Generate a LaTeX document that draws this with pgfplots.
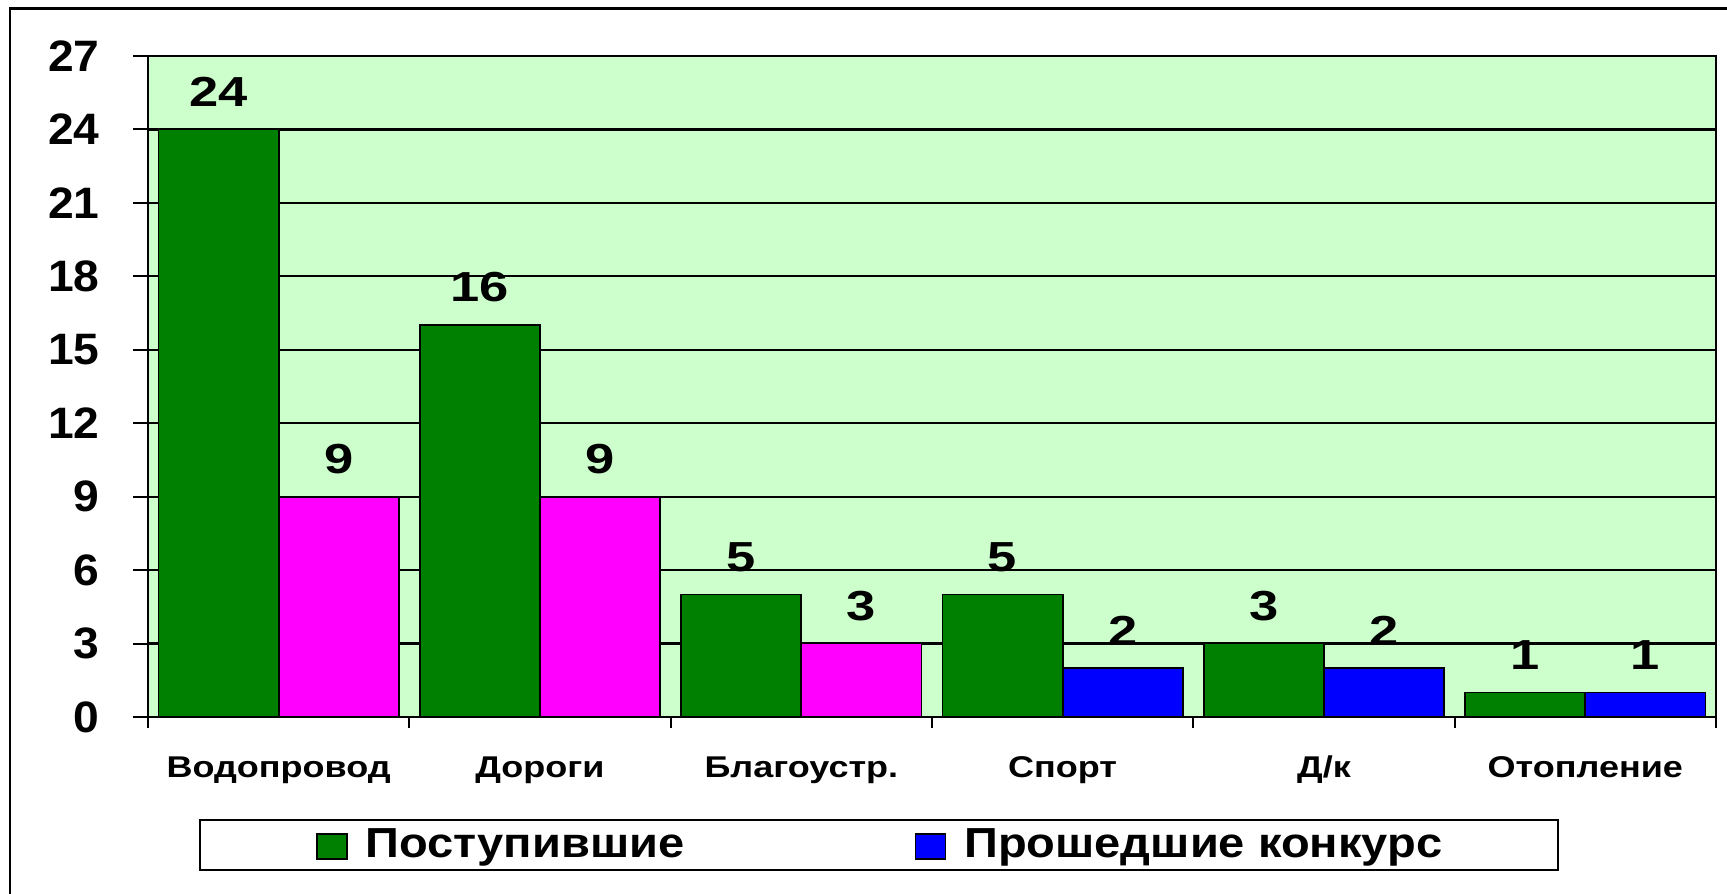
\documentclass[border=0pt]{standalone}
\usepackage{pgfplots}
\pgfplotsset{compat=1.18}
\usepackage{fontspec}
\setmainfont{Liberation Sans}
\newfontfamily\tickf{Liberation Sans}[FakeStretch=1.05]
\newfontfamily\labf{Liberation Sans}[FakeStretch=1.2]
\newfontfamily\valf{Liberation Sans}[FakeStretch=1.25]
\newfontfamily\legf{Liberation Sans}[FakeStretch=1.12]
\definecolor{bg}{HTML}{CCFFCC}
\definecolor{bgreen}{HTML}{008000}
\definecolor{bmag}{HTML}{FF00FF}
\definecolor{bblue}{HTML}{0000FF}
\begin{document}
\begin{tikzpicture}[x=1pt,y=1pt]
\useasboundingbox (0,0) rectangle (863.5,446.5);
\draw[line width=1.2pt] (5,-5) -- (5,442.25) -- (870,442.25);
\begin{axis}[
  at={(74pt,88pt)}, anchor=south west,
  scale only axis, width=784pt, height=330.5pt,
  xmin=-0.5, xmax=5.5, ymin=0, ymax=27,
  clip=false,
  axis background/.style={fill=bg},
  axis line style={line width=1.1pt},
  ytick={0,3,...,27},
  ymajorgrids, grid style={black, line width=1.1pt},
  xtick={0,...,5},
  xticklabels={Водопровод,Дороги,Благоустр.,Спорт,Д/к,Отопление},
  minor xtick={-0.5,0.5,...,5.5},
  xtick pos=bottom, ytick pos=left,
  tick align=outside,
  major tick length=7.5pt, minor tick length=5.5pt,
  every major x tick/.append style={draw=none},
  tick style={black, line width=1pt},
  /pgf/number format/assume math mode=true,
  xticklabel style={font=\labf\bfseries\fontsize{15}{15}\selectfont, anchor=base, inner sep=0pt, yshift=-22.5pt},
  yticklabel style={font=\tickf\bfseries\fontsize{22}{22}\selectfont, anchor=east, inner sep=0pt, xshift=-16.5pt},
  every node near coord/.append style={font=\valf\bfseries\fontsize{21}{21}\selectfont, anchor=south, inner sep=0pt, yshift=11pt, text=black},
  legend columns=2,
  legend style={at={(0.4662,-0.1936)}, anchor=center, draw=black, line width=1pt, fill=white,
    inner xsep=58pt, inner ysep=4.4pt,
    font=\legf\bfseries\fontsize{21}{21}\selectfont,
    nodes={inner sep=0pt},
    /tikz/every odd column/.append style={column sep=9pt},
    /tikz/every even column/.append style={column sep=115pt}},
  legend image code/.code={\draw[#1, line width=0.9pt] (0pt,-7pt) rectangle (15pt,5.5pt);},
]
% categories at 0..5; first series drawn left of centre, second right of centre
\addplot[ybar, bar width=0.46, bar shift=0, fill=bgreen, draw=black, line width=0.9pt, nodes near coords]
  coordinates {(-0.23,24) (0.77,16) (1.77,5) (2.77,5) (3.77,3) (4.77,1)};
\addlegendentry{Поступившие}
\addplot[ybar, bar width=0.46, bar shift=0, fill=bblue, draw=black, line width=0.9pt, nodes near coords]
  coordinates {(3.23,2) (4.23,2) (5.23,1)};
\addlegendentry{Прошедшие конкурс}
\addplot[ybar, bar width=0.46, bar shift=0, fill=bmag, draw=black, line width=0.9pt, nodes near coords, forget plot]
  coordinates {(0.23,9) (1.23,9) (2.23,3)};
\end{axis}
\end{tikzpicture}
\end{document}
